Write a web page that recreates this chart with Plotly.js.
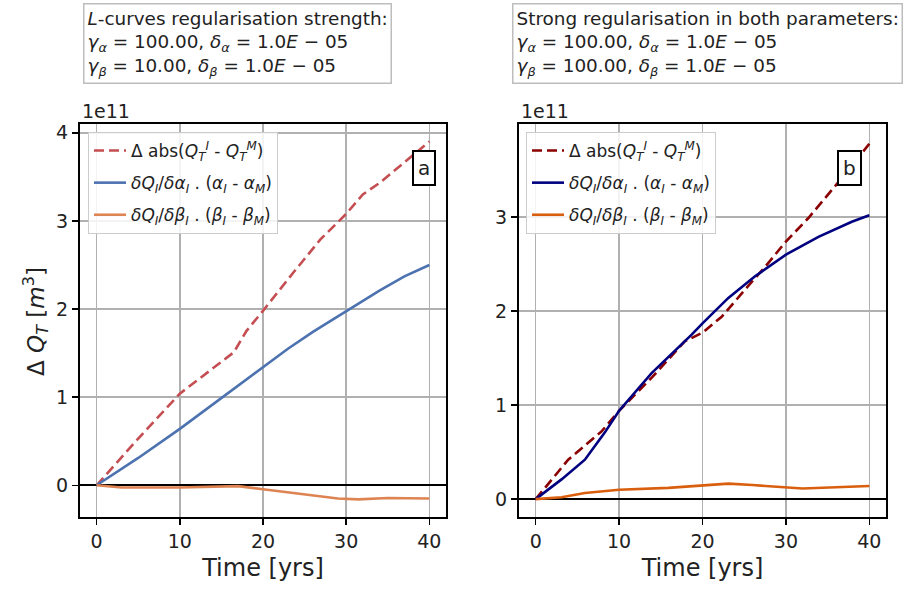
<!DOCTYPE html>
<html><head><meta charset="utf-8">
<script src="https://cdn.plot.ly/plotly-3.0.1.min.js"></script>
<style>html,body{margin:0;padding:0;background:#fff}</style>
</head><body><div id="chart" style="width:909px;height:590px"></div>
<script>
// values in units of 1e11 m^3, time in years
const tRedA = [0, 5, 10, 13.3, 16.5, 18, 20, 23.7, 26.9, 30, 32, 34, 37.7, 40];
const redA  = [0, 0.53, 1.04, 1.28, 1.51, 1.75, 1.98, 2.42, 2.79, 3.08, 3.30, 3.43, 3.72, 3.90];
const tBlueA = [0, 5, 10, 15, 20, 23, 26, 30, 34, 37, 40];
const blueA  = [0, 0.31, 0.64, 0.99, 1.34, 1.55, 1.74, 1.98, 2.21, 2.37, 2.50];
const tOrA = [0, 3, 10, 17, 20, 25, 29, 31.5, 35, 40];
const orA  = [0, -0.025, -0.025, -0.01, -0.045, -0.10, -0.15, -0.16, -0.145, -0.15];

const tRedB = [0, 3.9, 7.9, 10, 14, 17.9, 20, 22.3, 25.9, 27.5, 30, 32.7, 37.5, 40];
const redB  = [0, 0.42, 0.72, 0.94, 1.30, 1.68, 1.77, 1.94, 2.31, 2.47, 2.74, 2.99, 3.50, 3.78];
const tNavyB = [0, 3.1, 5.9, 8.3, 10, 13.9, 18.7, 20, 23.1, 26.3, 30, 33.9, 37.9, 40];
const navyB  = [0, 0.21, 0.42, 0.71, 0.94, 1.34, 1.75, 1.87, 2.14, 2.37, 2.60, 2.79, 2.95, 3.02];
const tOrB = [0, 3.1, 5.9, 10, 15.9, 20, 23.1, 26, 30, 32, 40];
const orB  = [0, 0.02, 0.065, 0.10, 0.12, 0.15, 0.165, 0.15, 0.125, 0.113, 0.14];

const xTicks = [0, 10, 20, 30, 40];
const yTicksA = [0, 1, 2, 3, 4];
const yTicksB = [0, 1, 2, 3];

const nameRed = "Δ abs(<i>Q</i><sub><i>T</i></sub><sup><i>I</i></sup> - <i>Q</i><sub><i>T</i></sub><sup><i>M</i></sup>)";
const nameAlpha = "<i>δQ<sub>I</sub></i>/<i>δα<sub>I</sub></i> . (<i>α<sub>I</sub></i> - <i>α<sub>M</sub></i>)";
const nameBeta = "<i>δQ<sub>I</sub></i>/<i>δβ<sub>I</sub></i> . (<i>β<sub>I</sub></i> - <i>β<sub>M</sub></i>)";

const LW = 2.6;
const traces = [
  {x: tRedA, y: redA, name: nameRed, xaxis:'x', yaxis:'y', legend:'legend', legendgroup:'a1', line:{color:'#c44e52', width:LW, dash:'10px,5px'}},
  {x: tBlueA, y: blueA, name: nameAlpha, xaxis:'x', yaxis:'y', legend:'legend', legendgroup:'a2', line:{color:'#4c72b0', width:LW}},
  {x: tOrA, y: orA, name: nameBeta, xaxis:'x', yaxis:'y', legend:'legend', legendgroup:'a3', line:{color:'#dd8452', width:LW}},
  {x: tRedB, y: redB, name: nameRed, xaxis:'x2', yaxis:'y2', legend:'legend2', legendgroup:'b1', line:{color:'#8b0000', width:LW, dash:'10px,5px'}},
  {x: tNavyB, y: navyB, name: nameAlpha, xaxis:'x2', yaxis:'y2', legend:'legend2', legendgroup:'b2', line:{color:'#000080', width:LW}},
  {x: tOrB, y: orB, name: nameBeta, xaxis:'x2', yaxis:'y2', legend:'legend2', legendgroup:'b3', line:{color:'#d95f0e', width:LW}}
].map(t => Object.assign({type:'scatter', mode:'lines', hoverinfo:'skip'}, t));

const W = 909, H = 590;
const px = v => v / W, py = v => 1 - v / H;
const txt = '#222';
const font = {family:'DejaVu Sans, sans-serif', color: txt};

function xax(dom, anchor) {
  return {domain: dom, anchor: anchor, range: [-2, 42], tickvals: xTicks, ticks:'outside', ticklen:6, tickwidth:1.5, tickcolor:'#000',
    showline:true, mirror:true, linecolor:'#000', linewidth:2, showgrid:true, gridcolor:'#b0b0b0', gridwidth:1.5, zeroline:false,
    tickfont:{family:font.family, size:19, color:txt},
    title:{text:'Time [yrs]', font:{family:font.family, size:24, color:txt}, standoff:8}};
}
function yax(dom, anchor, rng, tv) {
  return {domain: dom, anchor: anchor, range: rng, tickvals: tv, ticks:'outside', ticklen:6, tickwidth:1.5, tickcolor:'#000',
    showline:true, mirror:true, linecolor:'#000', linewidth:2, showgrid:true, gridcolor:'#b0b0b0', gridwidth:1.5,
    zeroline:true, zerolinecolor:'#000', zerolinewidth:2,
    tickfont:{family:font.family, size:19, color:txt}};
}
const yDom = [py(517), py(124)];
const legendStyle = (x) => ({x: x, y: py(132), xanchor:'left', yanchor:'top', bgcolor:'rgba(255,255,255,0.85)', bordercolor:'#cccccc', borderwidth:1,
  font:{family:font.family, size:17, color:txt}, tracegroupgap:7, itemwidth:32});

const boxFont = {family:font.family, size:18.4, color:txt};
const layout = {
  width: W, height: H, margin:{l:0, r:0, t:0, b:0}, paper_bgcolor:'#fff', plot_bgcolor:'#fff', font: font,
  xaxis: xax([px(80), px(446)], 'y'),
  yaxis: yax(yDom, 'x', [-0.36, 4.1], yTicksA),
  xaxis2: xax([px(519), px(886)], 'y2'),
  yaxis2: yax(yDom, 'x2', [-0.19, 3.99], yTicksB),
  legend: legendStyle(px(88)),
  legend2: legendStyle(px(526)),
  annotations: [
    {xref:'paper', yref:'paper', x:px(83), y:py(3), xanchor:'left', yanchor:'top', align:'left', showarrow:false,
     text:'<i>L</i>-curves regularisation strength:<br><i>γ<sub>α</sub></i> = 100.00, <i>δ<sub>α</sub></i> = 1.0<i>E</i> − 05<br><i>γ<sub>β</sub></i> = 10.00, <i>δ<sub>β</sub></i> = 1.0<i>E</i> − 05',
     font: boxFont, bgcolor:'#fff', bordercolor:'#bdbdbd', borderwidth:1.5, borderpad:3},
    {xref:'paper', yref:'paper', x:px(512), y:py(3), xanchor:'left', yanchor:'top', align:'left', showarrow:false,
     text:'Strong regularisation in both parameters:<br><i>γ<sub>α</sub></i> = 100.00, <i>δ<sub>α</sub></i> = 1.0<i>E</i> − 05<br><i>γ<sub>β</sub></i> = 100.00, <i>δ<sub>β</sub></i> = 1.0<i>E</i> − 05',
     font: boxFont, bgcolor:'#fff', bordercolor:'#bdbdbd', borderwidth:1.5, borderpad:3},
    {xref:'paper', yref:'paper', x:px(424), y:py(150), showarrow:false, text:'a', font:{family:font.family, size:20, color:txt},
     bgcolor:'#fff', bordercolor:'#000', borderwidth:2, borderpad:4},
    {xref:'paper', yref:'paper', x:px(862), y:py(150), showarrow:false, text:'b', font:{family:font.family, size:20, color:txt},
     bgcolor:'#fff', bordercolor:'#000', borderwidth:2, borderpad:4},
    {xref:'paper', yref:'paper', x:px(80), y:py(124), xanchor:'left', yanchor:'bottom', showarrow:false, text:'1e11', font:{family:font.family, size:19, color:txt}},
    {xref:'paper', yref:'paper', x:px(519), y:py(124), xanchor:'left', yanchor:'bottom', showarrow:false, text:'1e11', font:{family:font.family, size:19, color:txt}},
    {xref:'paper', yref:'paper', x:px(36), y:py(322), xanchor:'center', yanchor:'middle', showarrow:false, textangle:-90, text:'Δ <i>Q<sub>T</sub></i> [<i>m</i><sup>3</sup>]', font:{family:font.family, size:23, color:txt}}
  ]
};
Plotly.newPlot('chart', traces, layout, {displayModeBar:false, staticPlot:true});
</script></body></html>
